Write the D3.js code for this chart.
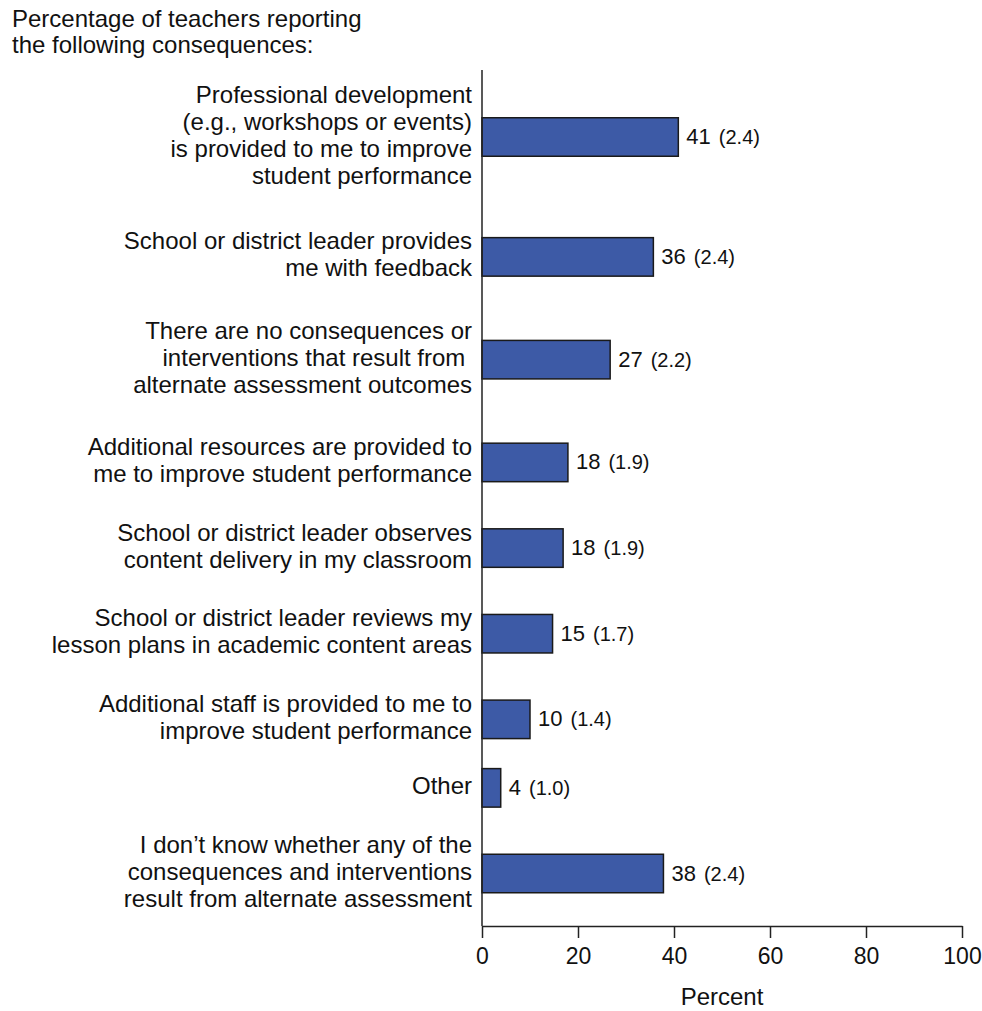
<!DOCTYPE html>
<html>
<head>
<meta charset="utf-8">
<script src="https://cdn.jsdelivr.net/npm/d3@7"></script>
<style>
  html, body { margin: 0; padding: 0; background: #fff; }
  svg { display: block; font-family: "Liberation Sans", Arial, Helvetica, sans-serif; }
</style>
</head>
<body>
<div id="chart"></div>
<script>
// ---- data ----
const titleLines = ["Percentage of teachers reporting", "the following consequences:"];
const categories = [
  "Professional development\n(e.g., workshops or events)\nis provided to me to improve\nstudent performance",
  "School or district leader provides\nme with feedback",
  "There are no consequences or\ninterventions that result from \nalternate assessment outcomes",
  "Additional resources are provided to\nme to improve student performance",
  "School or district leader observes\ncontent delivery in my classroom",
  "School or district leader reviews my\nlesson plans in academic content areas",
  "Additional staff is provided to me to\nimprove student performance",
  "Other",
  "I don\u2019t know whether any of the\nconsequences and interventions\nresult from alternate assessment"
];
const values = [40.9, 35.7, 26.7, 17.9, 16.9, 14.7, 10.0, 3.9, 37.8];
const valueLabels = ["41", "36", "27", "18", "18", "15", "10", "4", "38"];
const seLabels = ["(2.4)", "(2.4)", "(2.2)", "(1.9)", "(1.9)", "(1.7)", "(1.4)", "(1.0)", "(2.4)"];
const xTicks = [0, 20, 40, 60, 80, 100];
const xTitle = "Percent";

// ---- layout ----
const W = 982, H = 1011;
const plotLeft = 482, plotRight = 962, plotTop = 70, plotBottom = 926;
const barH = 38.5;
const textColor = "#111";
const barFill = "#3d5aa6";
const lineH = 27;

const svg = d3.select("#chart").append("svg").attr("width", W).attr("height", H);

const x = d3.scaleLinear().domain([0, 100]).range([plotLeft, plotRight]);

// vertical slots sized by the number of label lines
const lineCounts = categories.map(c => c.split("\n").length);
const weights = lineCounts.map(n => n + 0.5);
const pos = [0];
for (let i = 1; i < weights.length; i++) pos.push(pos[i - 1] + (weights[i - 1] + weights[i]) / 2);
const y = d3.scaleLinear().domain([0, pos[pos.length - 1]]).range([plotTop + 67, plotBottom - 52.5]);

// title
svg.append("g").selectAll("text").data(titleLines).join("text")
  .attr("x", 12).attr("y", (d, i) => 26.5 + i * 26.5)
  .attr("font-size", 24).attr("fill", textColor).text(d => d);

// bars
const rows = categories.map((c, i) => ({ c, v: values[i], lab: valueLabels[i], se: seLabels[i], yc: y(pos[i]) }));

svg.append("g").selectAll("rect").data(rows).join("rect")
  .attr("x", x(0)).attr("y", d => d.yc - barH / 2)
  .attr("width", d => x(d.v) - x(0)).attr("height", barH)
  .attr("fill", barFill).attr("stroke", "#1a1a1a").attr("stroke-width", 1.5);

// value labels
const vl = svg.append("g").selectAll("text").data(rows).join("text")
  .attr("x", d => x(d.v) + 8).attr("y", d => d.yc + 7)
  .attr("fill", textColor).attr("font-size", 22);
vl.append("tspan").text(d => d.lab);
vl.append("tspan").attr("dx", 8).attr("font-size", 20).text(d => d.se);

// category labels
const cl = svg.append("g").selectAll("text").data(rows).join("text")
  .attr("text-anchor", "end").attr("font-size", 24).attr("fill", textColor)
  .attr("xml:space", "preserve");
cl.each(function (d) {
  const lines = d.c.split("\n");
  const t = d3.select(this);
  lines.forEach((ln, j) => {
    t.append("tspan").attr("x", plotLeft - 10)
      .attr("y", d.yc + 6 + (j - (lines.length - 1) / 2) * lineH)
      .text(ln);
  });
});

// axes
svg.append("line")
  .attr("x1", plotLeft).attr("x2", plotLeft).attr("y1", plotTop).attr("y2", plotBottom)
  .attr("stroke", "#222").attr("stroke-width", 1.5);

const xAxis = svg.append("g").attr("transform", `translate(0,${plotBottom})`)
  .call(d3.axisBottom(x).tickValues(xTicks).tickSize(12).tickPadding(10).tickSizeOuter(0));
xAxis.select(".domain").attr("stroke", "#222").attr("stroke-width", 1.5);
xAxis.selectAll(".tick line").attr("stroke", "#222").attr("stroke-width", 1.5);
xAxis.selectAll(".tick text").attr("font-size", 23).attr("fill", textColor)
  .attr("font-family", "Liberation Sans, Arial, sans-serif");

svg.append("text").attr("x", (plotLeft + plotRight) / 2).attr("y", 1005)
  .attr("text-anchor", "middle").attr("font-size", 24).attr("fill", textColor).text(xTitle);
</script>
</body>
</html>
